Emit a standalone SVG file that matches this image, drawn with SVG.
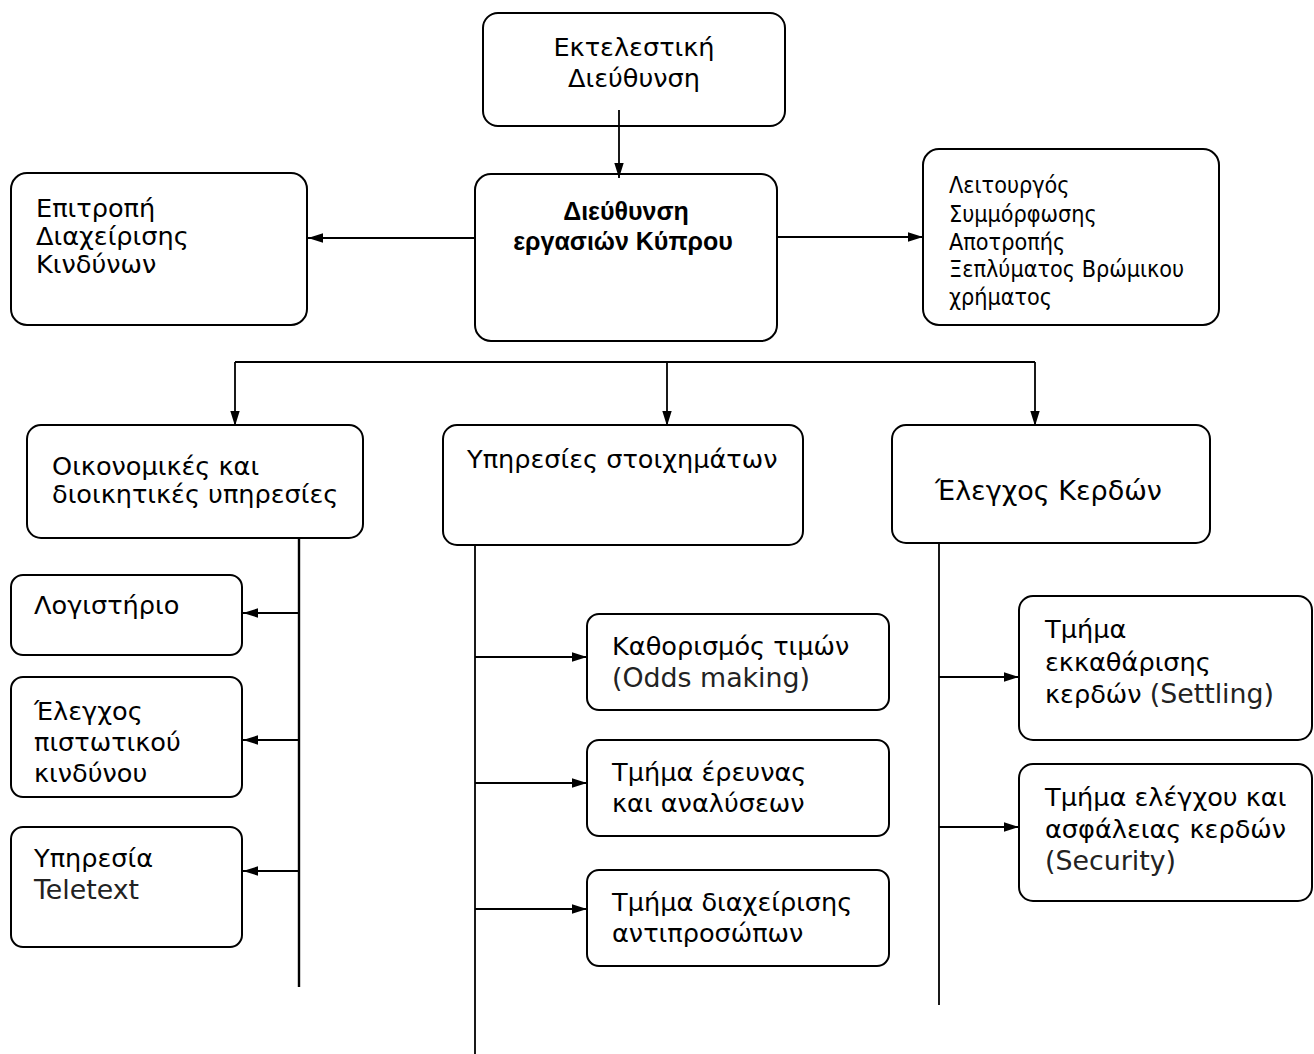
<svg xmlns="http://www.w3.org/2000/svg" width="1314" height="1054" viewBox="0 0 1314 1054">
<style>
.box{fill:#fff;stroke:#000;stroke-width:2}
.t{font-family:"DejaVu Sans",Verdana,sans-serif;font-size:25.6px;fill:#000}
.c{font-family:"DejaVu Sans Condensed","DejaVu Sans",sans-serif;font-stretch:condensed;font-size:23.2px;fill:#000}
.b{font-family:"Liberation Sans",Arial,sans-serif;font-weight:bold;font-size:25px;fill:#000}
.s{font-size:26.8px;fill:#222}
.ln{fill:none;stroke:#000;stroke-width:1.8}
.mid{text-anchor:middle}
</style>
<defs>
<marker id="ah" markerUnits="userSpaceOnUse" markerWidth="16" markerHeight="11" refX="15" refY="5.5" orient="auto">
<path d="M0,0.8 L15,5.5 L0,10.2 z" fill="#000"/>
</marker>
</defs>
<g id="exec">
<rect class="box" x="483" y="13" width="302" height="113" rx="15"/>
<text class="t mid" x="634" y="56">Εκτελεστική</text>
<text class="t mid" x="634" y="87">Διεύθυνση</text>
</g>
<g id="cyprus">
<rect class="box" x="475" y="174" width="302" height="167" rx="16"/>
<text class="b mid" x="626" y="220">Διεύθυνση</text>
<text class="b mid" x="623" y="250">εργασιών Κύπρου</text>
</g>
<g id="risk">
<rect class="box" x="11" y="173" width="296" height="152" rx="16"/>
<text class="t" x="36" y="217">Επιτροπή</text>
<text class="t" x="36" y="245">Διαχείρισης</text>
<text class="t" x="36" y="273">Κινδύνων</text>
</g>
<g id="compliance">
<rect class="box" x="923" y="149" width="296" height="176" rx="16"/>
<text class="c" x="949" y="193">Λειτουργός</text>
<text class="c" x="949" y="222">Συμμόρφωσης</text>
<text class="c" x="949" y="250">Αποτροπής</text>
<text class="c" x="949" y="277">Ξεπλύματος Βρώμικου</text>
<text class="c" x="949" y="305">χρήματος</text>
</g>
<g id="finance">
<rect class="box" x="27" y="425" width="336" height="113" rx="14"/>
<text class="t" x="52" y="475">Οικονομικές και</text>
<text class="t" x="52" y="503">διοικητικές υπηρεσίες</text>
</g>
<g id="betting">
<rect class="box" x="443" y="425" width="360" height="120" rx="14"/>
<text class="t" x="467" y="468">Υπηρεσίες στοιχημάτων</text>
</g>
<g id="profit">
<rect class="box" x="892" y="425" width="318" height="118" rx="14"/>
<text class="t" x="935" y="500" style="font-size:27px">Έλεγχος Κερδών</text>
</g>
<g id="accounting">
<rect class="box" x="11" y="575" width="231" height="80" rx="12"/>
<text class="t" x="34" y="614">Λογιστήριο</text>
</g>
<g id="credit">
<rect class="box" x="11" y="677" width="231" height="120" rx="12"/>
<text class="t" x="34" y="720">Έλεγχος</text>
<text class="t" x="34" y="751">πιστωτικού</text>
<text class="t" x="34" y="782">κινδύνου</text>
</g>
<g id="teletext">
<rect class="box" x="11" y="827" width="231" height="120" rx="12"/>
<text class="t" x="34" y="867">Υπηρεσία</text>
<text class="t s" x="34" y="899">Teletext</text>
</g>
<g id="odds">
<rect class="box" x="587" y="614" width="302" height="96" rx="12"/>
<text class="t" x="612" y="655">Καθορισμός τιμών</text>
<text class="t s" x="612" y="687">(Odds making)</text>
</g>
<g id="research">
<rect class="box" x="587" y="740" width="302" height="96" rx="12"/>
<text class="t" x="612" y="781">Τμήμα έρευνας</text>
<text class="t" x="612" y="812">και αναλύσεων</text>
</g>
<g id="agents">
<rect class="box" x="587" y="870" width="302" height="96" rx="12"/>
<text class="t" x="612" y="911">Τμήμα διαχείρισης</text>
<text class="t" x="612" y="942">αντιπροσώπων</text>
</g>
<g id="settling">
<rect class="box" x="1019" y="596" width="293" height="144" rx="14"/>
<text class="t" x="1045" y="638">Τμήμα</text>
<text class="t" x="1045" y="671">εκκαθάρισης</text>
<text class="t" x="1045" y="703">κερδών <tspan class="s">(Settling)</tspan></text>
</g>
<g id="security">
<rect class="box" x="1019" y="764" width="293" height="137" rx="14"/>
<text class="t" x="1045" y="806">Τμήμα ελέγχου και</text>
<text class="t" x="1045" y="838">ασφάλειας κερδών</text>
<text class="t s" x="1045" y="870">(Security)</text>
</g>
<g id="connectors">
<line class="ln" x1="619" y1="110" x2="619" y2="178" marker-end="url(#ah)"/>
<line class="ln" x1="475" y1="238" x2="308" y2="238" marker-end="url(#ah)"/>
<line class="ln" x1="777" y1="237" x2="923" y2="237" marker-end="url(#ah)"/>
<path class="ln" d="M235,362 H1035"/>
<line class="ln" x1="235" y1="362" x2="235" y2="426" marker-end="url(#ah)"/>
<line class="ln" x1="667" y1="362" x2="667" y2="426" marker-end="url(#ah)"/>
<line class="ln" x1="1035" y1="362" x2="1035" y2="426" marker-end="url(#ah)"/>
<line class="ln" x1="299" y1="539" x2="299" y2="987" style="stroke-width:2.4"/>
<line class="ln" x1="299" y1="613" x2="243" y2="613" marker-end="url(#ah)"/>
<line class="ln" x1="299" y1="740" x2="243" y2="740" marker-end="url(#ah)"/>
<line class="ln" x1="299" y1="871" x2="243" y2="871" marker-end="url(#ah)"/>
<line class="ln" x1="475" y1="546" x2="475" y2="1054"/>
<line class="ln" x1="475" y1="657" x2="587" y2="657" marker-end="url(#ah)"/>
<line class="ln" x1="475" y1="783" x2="587" y2="783" marker-end="url(#ah)"/>
<line class="ln" x1="475" y1="909" x2="587" y2="909" marker-end="url(#ah)"/>
<line class="ln" x1="939" y1="544" x2="939" y2="1005"/>
<line class="ln" x1="939" y1="677" x2="1019" y2="677" marker-end="url(#ah)"/>
<line class="ln" x1="939" y1="827" x2="1019" y2="827" marker-end="url(#ah)"/>
</g>
</svg>
